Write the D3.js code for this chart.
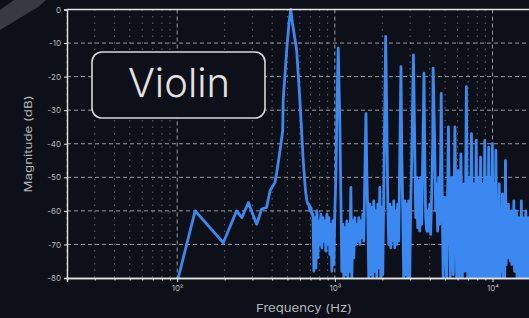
<!DOCTYPE html>
<html><head><meta charset="utf-8">
<script src="https://cdn.jsdelivr.net/npm/d3@7"></script>
<style>html,body{margin:0;padding:0;background:#0d1018;overflow:hidden}</style>
</head><body><svg id="c" width="529" height="318"></svg>
<script>
// ---- data ----
const freqHz = [
  99,130,196,238,257,283,319,343,369,388,417,428,449,467,470,495,512,525,538,572,600,630,
  646,655,665,675,685,695,705,715,726,736,747,758,769,780,792,804,815,827,840,852,864,877,
  890,903,916,930,943,957,971,985,1000,1015,1030,
  1050,1076,1091,1107,1124,1140,1157,1174,1191,1209,1226,1244,1263,1281,1300,1319,1338,
  1358,1378,1398,1419,1440,1461,1482,1504,1526,1548,
  1575,1594,1618,1641,1666,1690,1715,1740,1765,1791,1818,1844,1871,1899,1927,1955,1984,
  2013,2042,2072,
  2100,2134,2165,2197,2229,2262,2295,2329,2363,2398,2433,2468,2505,2541,2579,
  2625,2655,2694,2734,2774,2815,2856,2898,2940,2983,3027,3072,
  3150,3209,3256,3304,3352,3402,3452,3502,3554,3606,
  3675,3712,3767,3822,3878,3935,3993,4052,4111,4172,
  4200,4295,4358,4422,4487,4553,4620,4687,
  4725,4860,4980,5110,
  5250,5390,5510,5640,
  5775,5920,6040,6170,
  6300,6440,6560,6690,
  6825,6960,7090,7220,
  7350,7490,7610,7740,
  7875,8010,8140,8270,
  8400,8540,8660,8790,
  8925,9060,9190,9320,
  9450,9590,9710,9840,
  9975,10110,10240,10370,
  10500,10640,10760,10890,
  11025,11160,11290,11420,
  11550,11690,11810,11940,
  12075,12210,12340,12470,
  12600,12740,12860,12990,
  13125,13260,13390,13520,
  13650,13790,13910,14040,
  14175,14310,14440,14570,
  14700,14840,14960,15090,
  15225,15360,15490,15620,
  15750,15890,16010,16140,
  16275,16410,16540,16670,
  16800,16940,17060,17190,
  17325,17600
];
const magDb = [
  -82,-60,-69.5,-60,-62,-57.5,-64,-59.5,-59,-54,-51.5,-48.5,-42,-36,-27,-12,-4,0,-4,-12,-27,-45,
  -52,-55,-57,-58,-58,-60,-59,-61,-61,-78,-62,-77,-60,-74,-63,-70,-61,-71,-62,-69,-63,-72,
  -61,-70,-62,-73,-64,-78,-63,-76,-60,-50,-30,
  -11.5,-35,-55,-78,-64,-80,-65,-79,-63,-80,-64,-78,-53,-80,-63,-74,-62,
  -70,-64,-69,-62,-70,-63,-68,-61,-69,-50,
  -31,-48,-62,-80,-58,-79,-59,-80,-57,-78,-60,-80,-58,-77,-53,-80,-59,
  -79,-55,-30,
  -8,-32,-58,-70,-58,-71,-59,-69,-57,-71,-60,-70,-58,-69,-45,
  -17,-42,-60,-80,-57,-79,-58,-80,-57,-80,-58,-45,
  -13.5,-40,-62,-50,-65,-51,-66,-50,-64,-45,
  -19,-42,-62,-66,-60,-66,-58,-67,-55,-40,
  -17.5,-40,-60,-52,-66,-50,-64,-45,
  -25,-80,-56,-80,
  -35,-80,-50,-79,
  -35,-80,-48,-80,
  -43,-80,-52,-78,
  -23,-80,-50,-80,
  -37,-80,-52,-80,
  -39,-80,-50,-80,
  -44,-80,-52,-80,
  -39,-80,-50,-80,
  -41,-80,-50,-80,
  -40,-80,-52,-80,
  -42,-80,-58,-80,
  -52,-80,-62,-78,
  -55,-80,-64,-80,
  -45,-76,-62,-74,
  -58,-72,-64,-75,
  -60,-76,-63,-74,
  -57,-78,-64,-78,
  -60,-80,-63,-80,
  -62,-80,-64,-80,
  -57,-80,-63,-80,
  -62,-80,-64,-80,
  -60,-80,-63,-80,
  -62,-80,-64,-80,
  -63,-80
];
const yTickValues = [0,-10,-20,-30,-40,-50,-60,-70,-80];
const xMajorTicks = [100,1000,10000];
const xMajorLabels = ["10²","10³","10⁴"];
const xDomain = [20,20000];
const yDomain = [-80,0];
const badgeText = "Violin";
const xTitle = "Frequency (Hz)";
const yTitle = "Magnitude (dB)";

// ---- drawing ----
const W=529,H=318,L=67,R=540,T=9.5,B=278;
const BG="#0d1018", LINE="#3b89f0", AX="#e4e4e4", TXT="#b4b6bb";
const x=d3.scaleLog().domain(xDomain).range([L,R]);
const y=d3.scaleLinear().domain(yDomain).range([B,T]);
const svg=d3.select('#c');
svg.append('rect').attr('width',W).attr('height',H).attr('fill',BG);
// faint watermark fragment in the corner
svg.append('path').attr('d','M0,10 L14,0 L46,0 L38,7 L0,30 Z')
  .attr('fill','#6b6e76').attr('opacity',0.45);

const allTicks=x.ticks();
const minorTicks=allTicks.filter(v=>!xMajorTicks.includes(v));

const grid=svg.append('g');
grid.selectAll('line.vmin').data(minorTicks).join('line')
  .attr('x1',d=>x(d)).attr('x2',d=>x(d)).attr('y1',T).attr('y2',B)
  .attr('stroke','#a2a4aa').attr('stroke-opacity',0.6).attr('stroke-width',1)
  .attr('stroke-dasharray','1.5,5');
grid.selectAll('line.vmaj').data(xMajorTicks).join('line')
  .attr('x1',d=>x(d)).attr('x2',d=>x(d)).attr('y1',T).attr('y2',B)
  .attr('stroke','#c8c9cc').attr('stroke-opacity',0.75).attr('stroke-width',1)
  .attr('stroke-dasharray','4,3');
grid.selectAll('line.h').data(yTickValues.filter(v=>v!==0&&v!==-80)).join('line')
  .attr('x1',L).attr('x2',R).attr('y1',d=>y(d)).attr('y2',d=>y(d))
  .attr('stroke','#c8c9cc').attr('stroke-opacity',0.75).attr('stroke-width',1)
  .attr('stroke-dasharray','4,3');

svg.append('clipPath').attr('id','clip').append('rect')
  .attr('x',L).attr('y',T-2).attr('width',R-L).attr('height',B-T+2);
const pts=freqHz.map((f,i)=>[f,magDb[i]]);
svg.append('path').datum(pts).attr('clip-path','url(#clip)')
  .attr('d',d3.line().x(d=>x(d[0])).y(d=>y(d[1])))
  .attr('fill','none').attr('stroke',LINE).attr('stroke-width',2.8)
  .attr('stroke-linejoin','round');

// badge
const bg=svg.append('g');
bg.append('rect').attr('x',92).attr('y',52).attr('width',173).attr('height',66).attr('rx',10)
  .attr('fill',BG).attr('stroke','#d6d6d6').attr('stroke-width',1.6);
bg.append('text').attr('x',179).attr('y',97).attr('text-anchor','middle')
  .attr('font-family','Inter, "Noto Sans", sans-serif').attr('font-size',40).attr('font-weight',300)
  .attr('fill','#e2e2e2').text(badgeText);

// axes
const yAxis=svg.append('g').attr('transform',`translate(${L},0)`)
  .call(d3.axisLeft(y).tickValues(yTickValues).tickSize(3).tickPadding(3).tickFormat(d=>String(d)));
const xMinor=svg.append('g').attr('transform',`translate(0,${B})`)
  .call(d3.axisBottom(x).tickValues(minorTicks).tickSize(2.5).tickFormat(''));
const xMajor=svg.append('g').attr('transform',`translate(0,${B})`)
  .call(d3.axisBottom(x).tickValues(xMajorTicks).tickSize(4).tickPadding(3)
    .tickFormat((d,i)=>xMajorLabels[i]));
[yAxis,xMinor,xMajor].forEach(g=>{
  g.select('.domain').attr('stroke',AX).attr('stroke-width',1.4);
  g.selectAll('.tick line').attr('stroke',AX);
  g.selectAll('.tick text').attr('fill',TXT).attr('font-size',8)
    .attr('font-family','Inter, "DejaVu Sans", sans-serif');
});
svg.append('line').attr('x1',L).attr('x2',R).attr('y1',T).attr('y2',T)
  .attr('stroke',AX).attr('stroke-width',1.4);

svg.append('text').attr('x',304).attr('y',312).attr('text-anchor','middle')
  .attr('font-family','Inter, sans-serif').attr('font-size',11).attr('fill',TXT)
  .attr('textLength',96).attr('lengthAdjust','spacingAndGlyphs').text(xTitle);
svg.append('text').attr('transform','translate(32,144) rotate(-90)').attr('text-anchor','middle')
  .attr('font-family','Inter, sans-serif').attr('font-size',10.5).attr('fill',TXT)
  .attr('textLength',97).attr('lengthAdjust','spacingAndGlyphs').text(yTitle);
</script></body></html>
